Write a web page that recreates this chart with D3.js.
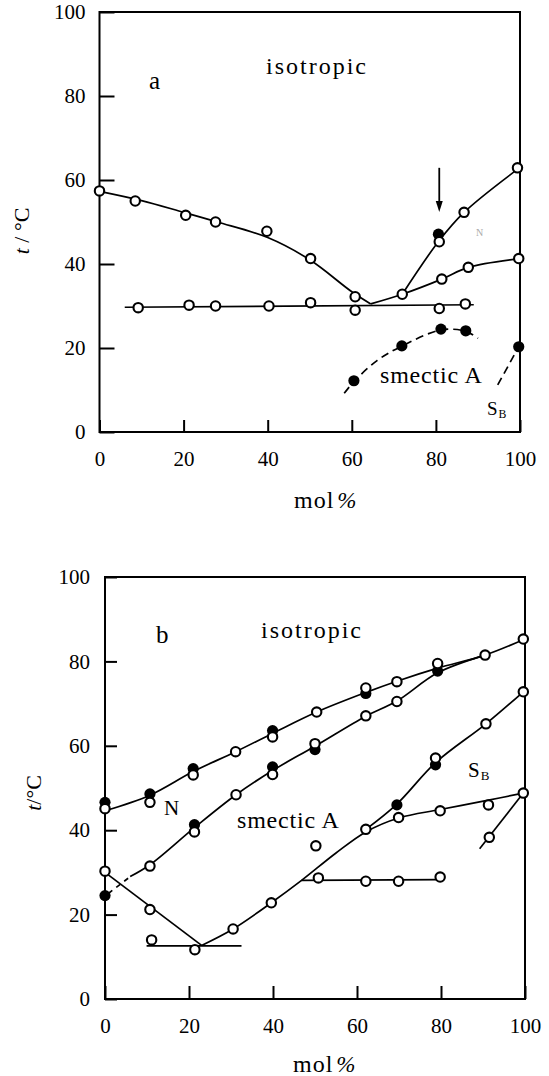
<!DOCTYPE html>
<html><head><meta charset="utf-8">
<script src="https://cdn.jsdelivr.net/npm/d3@7"></script>
<style>
html,body{margin:0;padding:0;background:#fff;}
svg{display:block;}
svg text{font-family:"Liberation Serif","DejaVu Serif","Times New Roman",serif !important;fill:#000;}
</style></head>
<body>
<svg id="c" width="549" height="1076"></svg>
<script>
// ---------- common ticks ----------
const xTicks = [0, 20, 40, 60, 80, 100];
const yTicks = [0, 20, 40, 60, 80, 100];

// ---------- panel a : measured points (mol%, t/°C) ----------
const aOpenLiquidus = [[0,57.4],[8.5,55],[20.5,51.6],[27.6,50],[39.8,47.8],[50.2,41.3],[60.8,32.2]];
const aOpenEutectic = [[9.2,29.6],[21.3,30.2],[27.6,30],[40.3,30],[50.2,30.8],[60.8,29],[80.8,29.4],[87,30.5]];
const aOpenNLower   = [[72,32.8],[81.4,36.4],[87.7,39.2],[99.7,41.3]];
const aOpenNUpper   = [[80.8,45.3],[86.7,52.3],[99.4,62.9]];
const aFilled       = [[80.6,47.1],[60.5,12.2],[71.9,20.5],[81.2,24.5],[87.1,24.1],[99.7,20.3]];
// panel a : phase boundaries
const aLiquidusCurve = [[0,57.3],[10,55.1],[20,52.3],[28,50],[40,46.3],[50,41],[60,33.4],[64.5,30.5]];
const aEutecticLine  = [[6,29.7],[89,30.3]];
const aNLowerCurve   = [[64.5,30.5],[72,32.8],[81.4,36.4],[87.7,39.2],[100,41.3]];
const aNUpperCurve   = [[72,32.8],[80.8,45.6],[86.7,52.3],[100,63]];
const aSmADashed     = [[58.2,9.2],[60.5,12],[66,17],[72,20.5],[81.2,24.3],[87,24],[90,22.3]];
const aSBDashed      = [[94.7,11.2],[99.7,20.3]];
const aArrow         = [[80.8,62.9],[80.8,52.4]];

// ---------- panel b : measured points ----------
const bOpen = [
  [0,45.1],[10.7,46.6],[21,53.1],[31.1,58.6],[39.9,62.1],[50.4,68],[62.1,73.7],[69.5,75.2],[79.2,79.5],[90.5,81.5],[99.6,85.3],
  [10.7,31.5],[21.3,39.6],[31.2,48.4],[39.9,53.2],[50,60.5],[62.1,67.1],[69.5,70.5],
  [78.7,57.1],[90.7,65.2],[99.6,72.8],
  [0,30.3],[10.7,21.2],[11.1,14],[21.4,11.7],[30.5,16.6],[39.6,22.8],
  [50.2,36.3],[62.1,40.2],[69.9,43],[79.8,44.6],[99.6,48.8],[91.3,46],
  [50.8,28.7],[62.1,27.9],[69.9,27.9],[79.8,28.9],
  [91.5,38.3]
];
const bFilled = [
  [0,46.6],[10.7,48.6],[21,54.6],[39.9,63.6],[62.1,72.4],[79.2,77.7],
  [0,24.5],[21.3,41.3],[39.9,55],[50,59.1],[69.5,46],[78.7,55.5]
];
// panel b : phase boundaries
const bIsoN    = [[0,44.6],[10.7,48.3],[21,53.9],[31.1,58.6],[40,63],[50.4,68],[62,72.6],[69.5,75.3],[79.2,78.4],[90.5,81.5],[100,85.3]];
const bNSmA    = [[6,29],[10.7,31.8],[21.3,40.6],[31.2,48.4],[40,54.2],[50,59.9],[62.1,67],[69.5,70.6],[79.2,77.3],[90.5,81.5]];
const bNSmADash= [[0.8,25],[6,29]];
const bSmASB   = [[62.1,40.2],[69.5,46.2],[78.7,56],[90.7,65.2],[99.6,72.8]];
const bLowCurve= [[23,12.7],[30.5,16.6],[39.6,22.8],[46.8,28.1],[55,34.6],[62.1,39.6],[69.9,42.9],[79.8,44.9],[90.7,47],[99.6,48.8]];
const bHoriz1  = [[46.8,28.1],[79.8,28.3]];
const bDescend = [[0,30],[23,12.7]];
const bHoriz2  = [[9.9,12.6],[32.5,12.6]];
const bSBShort = [[89.2,35.6],[99.6,48.8]];

const FONT = "'Liberation Serif','DejaVu Serif','Times New Roman',serif";
const svg = d3.select("#c");

function panel(cfg){
  const x = d3.scaleLinear().domain([0,100]).range(cfg.xr);
  const y = d3.scaleLinear().domain([0,100]).range(cfg.yr);
  const g = svg.append("g");
  const ax = g.append("g").attr("transform",`translate(0,${cfg.yr[0]})`)
    .call(d3.axisBottom(x).tickValues(xTicks).tickFormat(d3.format("d")).tickSizeInner(-cfg.xtl).tickSizeOuter(0).tickPadding(19));
  const ay = g.append("g").attr("transform",`translate(${cfg.xr[0]},0)`)
    .call(d3.axisLeft(y).tickValues(yTicks).tickFormat(d3.format("d")).tickSizeInner(-cfg.ytl).tickSizeOuter(0).tickPadding(cfg.ypad));
  [ax,ay].forEach(a=>{
    a.attr("font-family",FONT).attr("font-size",21);
    a.select(".domain").remove();
    a.selectAll("line").attr("stroke","#000").attr("stroke-width",2);
    a.selectAll("text").style("font-family",FONT).style("font-size","21px").attr("fill","#000");
  });
  g.append("rect").attr("x",cfg.xr[0]).attr("y",cfg.yr[1])
    .attr("width",cfg.xr[1]-cfg.xr[0]).attr("height",cfg.yr[0]-cfg.yr[1])
    .attr("fill","none").attr("stroke","#000").attr("stroke-width",2);
  return {x,y,g};
}

function drawLine(p, data, curved, dash){
  const l = d3.line().x(d=>p.x(d[0])).y(d=>p.y(d[1]));
  if(curved) l.curve(d3.curveCatmullRom.alpha(0.5));
  p.g.append("path").attr("d",l(data)).attr("fill","none").attr("stroke","#000")
    .attr("stroke-width",1.7).attr("stroke-dasharray",dash||null);
}
function drawFilled(p,data){
  p.g.selectAll(null).data(data).enter().append("circle")
    .attr("cx",d=>p.x(d[0])).attr("cy",d=>p.y(d[1])).attr("r",5.6).attr("fill","#000");
}
function drawOpen(p,data){
  p.g.selectAll(null).data(data).enter().append("circle")
    .attr("cx",d=>p.x(d[0])).attr("cy",d=>p.y(d[1])).attr("r",4.7)
    .attr("fill","#fff").attr("stroke","#000").attr("stroke-width",2.1);
}
function label(x,y,txt,size,ls,extra){
  const t = svg.append("text").attr("x",x).attr("y",y).style("font-family",FONT).style("font-size",size+"px")
    .attr("letter-spacing",ls||0).text(txt);
  if(extra) extra(t);
  return t;
}
function subLabel(x,y,main,sub,size){
  const t = svg.append("text").attr("x",x).attr("y",y).style("font-family",FONT).style("font-size",size+"px");
  t.append("tspan").text(main);
  t.append("tspan").style("font-size",(size*0.62)+"px").attr("dy",3).attr("dx",1).text(sub);
}
function molLabel(x,y){
  const t = svg.append("text").attr("x",x).attr("y",y).style("font-family",FONT).style("font-size","24px").attr("letter-spacing",1);
  t.append("tspan").text("mol");
  t.append("tspan").attr("dx",3).attr("font-style","italic").style("font-size","23px").text("%");
}
function yLabel(cx,cy,txt){
  const t = svg.append("text").attr("transform",`translate(${cx},${cy}) rotate(-90)`)
    .attr("text-anchor","middle").attr("dy","0.35em").style("font-family",FONT).style("font-size","22px");
  t.append("tspan").attr("font-style","italic").text("t");
  t.append("tspan").text(txt);
}

// ===== panel a =====
const A = panel({xr:[99.5,520], yr:[432,12], xtl:12, ytl:15, ypad:14});
drawLine(A,aLiquidusCurve,true);
drawLine(A,aEutecticLine,false);
drawLine(A,aNLowerCurve,true);
drawLine(A,aNUpperCurve,true);
drawLine(A,aSmADashed,true,"8,5");
drawLine(A,aSBDashed,false,"8,5");
A.g.append("line").attr("x1",A.x(aArrow[0][0])).attr("x2",A.x(aArrow[0][0]))
  .attr("y1",A.y(aArrow[0][1])).attr("y2",A.y(aArrow[1][1])-8)
  .attr("stroke","#000").attr("stroke-width",1.8);
A.g.append("path").attr("d",()=>{
  const ax=A.x(aArrow[1][0]), ay=A.y(aArrow[1][1]);
  return `M${ax-3.5},${ay-11}L${ax+3.5},${ay-11}L${ax},${ay}Z`;
}).attr("fill","#000");
drawFilled(A,aFilled);
drawOpen(A,aOpenLiquidus);
drawOpen(A,aOpenEutectic);
drawOpen(A,aOpenNLower);
drawOpen(A,aOpenNUpper);

label(149,89,"a",25);
label(266,74,"isotropic",24,2);
label(380,383,"smectic A",24,0.8);
subLabel(487,415,"S","B",19);
label(476,236,"N",10,0,t=>t.attr("fill","#aaa").style("fill","#aaa"));
molLabel(294,508);
yLabel(21,231," / °C");

// ===== panel b =====
const B = panel({xr:[105,525], yr:[999,577], xtl:13, ytl:12, ypad:15});
drawLine(B,bIsoN,true);
drawLine(B,bNSmA,true);
drawLine(B,bNSmADash,false,"5,5");
drawLine(B,bSmASB,true);
drawLine(B,bLowCurve,true);
drawLine(B,bHoriz1,false);
drawLine(B,bDescend,false);
drawLine(B,bHoriz2,false);
drawLine(B,bSBShort,false);
drawFilled(B,bFilled);
drawOpen(B,bOpen);

label(156,643,"b",25);
label(261,638,"isotropic",24,2);
label(164,815,"N",21);
label(237,828,"smectic A",24,0.8);
subLabel(468,777,"S","B",21);
molLabel(293,1072);
yLabel(33,793,"/°C");
</script>
</body></html>
